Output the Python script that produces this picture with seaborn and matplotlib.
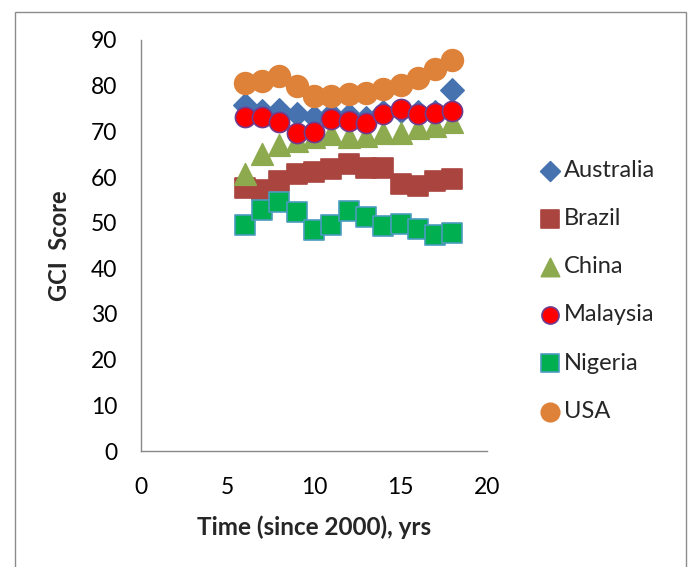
import matplotlib
matplotlib.use("Agg")
import matplotlib.pyplot as plt
import seaborn as sns
import pandas as pd
from matplotlib.patches import Rectangle

# GCI scores by year offset (years since 2000)
years = [6, 7, 8, 9, 10, 11, 12, 13, 14, 15, 16, 17, 18]
australia = [75.8, 74.4, 74.7, 73.8, 73.2, 73.8, 73.5, 73.0, 74.2, 74.5, 74.3, 74.3, 79.0]
brazil = [57.6, 57.1, 59.2, 60.6, 61.2, 61.7, 62.9, 61.9, 61.9, 58.5, 58.0, 59.2, 59.5]
china = [60.6, 65.1, 67.1, 67.9, 68.7, 69.5, 68.7, 68.9, 69.7, 69.7, 70.7, 71.2, 72.0]
malaysia = [73.2, 73.1, 72.1, 69.7, 69.9, 72.7, 72.3, 71.9, 73.9, 74.8, 73.9, 74.1, 74.5]
nigeria = [49.4, 52.8, 54.6, 52.3, 48.4, 49.4, 52.6, 51.2, 49.2, 49.7, 48.6, 47.3, 47.7]
usa = [80.5, 81.1, 82.1, 79.9, 77.7, 77.7, 78.2, 78.3, 79.2, 80.1, 81.6, 83.6, 85.6]

countries = ["Australia", "Brazil", "China", "Malaysia", "Nigeria", "USA"]
series = [australia, brazil, china, malaysia, nigeria, usa]

styles = {
    "Australia": dict(marker="D", color="#4672B0", edgecolor="#4672B0", s=140),
    "Brazil": dict(marker="s", color="#A9443F", edgecolor="#A9443F", s=215),
    "China": dict(marker="^", color="#8DAA4F", edgecolor="#8DAA4F", s=240),
    "Malaysia": dict(marker="o", color="#FF0000", edgecolor="#6F3C8E", s=210),
    "Nigeria": dict(marker="s", color="#00B050", edgecolor="#4A9CBF", s=215),
    "USA": dict(marker="o", color="#DE823A", edgecolor="#DE823A", s=245),
}

df = pd.DataFrame(
    [(c, x, y) for c, vals in zip(countries, series) for x, y in zip(years, vals)],
    columns=["country", "year", "score"],
)

sns.set_style("white")
plt.rcParams["font.family"] = ["Lato", "DejaVu Sans"]

fig = plt.figure(figsize=(6.89, 5.67), dpi=100)
fig.patches.append(Rectangle((15 / 689, -0.1), 671 / 689, 1.1 - 12 / 567,
                             transform=fig.transFigure, fill=False,
                             edgecolor="#8c8c8c", linewidth=1.0))
ax = fig.add_axes([141 / 689, 1 - 451 / 567, 346 / 689, 411 / 567])

for c in countries:
    st = styles[c]
    sns.scatterplot(data=df[df["country"] == c], x="year", y="score", ax=ax,
                    marker=st["marker"], color=st["color"], edgecolor=st["edgecolor"],
                    linewidth=1.2, s=st["s"], label=c, zorder=3)

ax.set_xlim(0, 20)
ax.set_ylim(0, 90)
ax.set_xticks([0, 5, 10, 15, 20])
ax.set_yticks(range(0, 91, 10))
ax.tick_params(axis="both", length=0, labelsize=16.5, colors="#000000")
ax.tick_params(axis="y", pad=17)
ax.tick_params(axis="x", pad=19)
for side in ["top", "right"]:
    ax.spines[side].set_visible(False)
for side in ["left", "bottom"]:
    ax.spines[side].set_color("#898989")
    ax.spines[side].set_linewidth(1.0)

ax.set_xlabel("Time (since 2000), yrs", fontsize=17.5, fontweight="bold", labelpad=12)
ax.set_ylabel("GCI  Score", fontsize=17, fontweight="bold", labelpad=14)

leg = ax.legend(loc="upper left", bbox_to_anchor=(538 / 689, 1 - 160 / 567),
                bbox_transform=fig.transFigure, frameon=False, fontsize=17,
                labelspacing=1.15, handletextpad=0.1, handlelength=1.0,
                markerscale=0.85, borderaxespad=0, borderpad=0)

fig.savefig("out.png", dpi=100)
